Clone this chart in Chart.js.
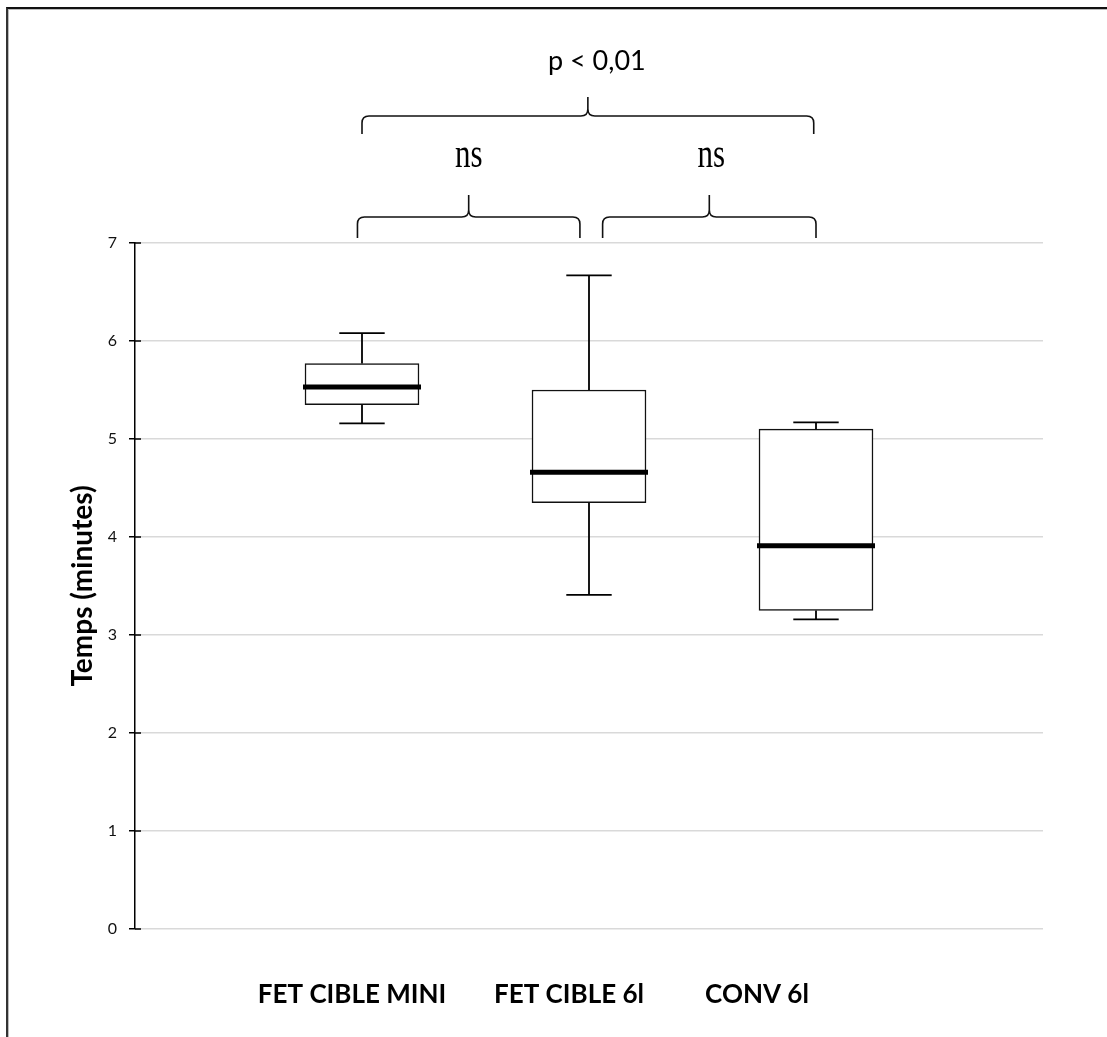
<!DOCTYPE html>
<html>
<head>
<meta charset="utf-8">
<script src="https://cdn.jsdelivr.net/npm/chart.js@4.4.1/dist/chart.umd.min.js"></script>
<style>
  html, body { margin: 0; padding: 0; background: #fff; }
  #wrap { position: relative; width: 1107px; height: 1037px; }
  #frame { position: absolute; left: 6px; top: 7px; right: 0; bottom: 0;
           border-top: 2px solid #111; border-left: 2px solid #333;
           box-shadow: inset 1px 1px 0 #bbb; pointer-events: none; }
</style>
</head>
<body>
<div id="wrap">
  <canvas id="box-chart" width="1107" height="1037"></canvas>
  <div id="frame"></div>
</div>
<script>
// values
const categories = ['FET CIBLE MINI', 'FET CIBLE 6l', 'CONV 6l'];
const mins    = [5.16, 3.41, 3.16];
const q1s     = [5.35, 4.35, 3.25];
const medians = [5.53, 4.66, 3.91];
const q3s     = [5.77, 5.50, 5.10];
const maxs    = [6.08, 6.67, 5.17];
const yTicks  = [0, 1, 2, 3, 4, 5, 6, 7];
const compareLabels = ['ns', 'ns', 'p < 0,01'];

// layout (pixels / x-units), not data
const labelShift = [-10, -20, -59];
const braces = [
  { x1: 0.98, x2: 1.96, yLine: 217, yEnd: 238, yTip: 195, textY: 167, dx: 0, serif: true },
  { x1: 2.06, x2: 3.00, yLine: 217, yEnd: 238, yTip: 195, textY: 167, dx: 2, serif: true },
  { x1: 1.00, x2: 2.99, yLine: 116, yEnd: 134, yTip: 97,  textY: 70,  dx: 9, serif: false }
];

function drawBrace(ctx, a, b, tip, yLine, yEnd, yTip) {
  const r = 7;
  ctx.beginPath();
  ctx.moveTo(a, yEnd);
  ctx.lineTo(a, yLine + r);
  ctx.quadraticCurveTo(a, yLine, a + r, yLine);
  ctx.lineTo(tip - r, yLine);
  ctx.quadraticCurveTo(tip, yLine, tip, yLine - r);
  ctx.lineTo(tip, yTip);
  ctx.moveTo(tip, yLine - r);
  ctx.quadraticCurveTo(tip, yLine, tip + r, yLine);
  ctx.lineTo(b - r, yLine);
  ctx.quadraticCurveTo(b, yLine, b, yLine + r);
  ctx.lineTo(b, yEnd);
  ctx.stroke();
}

const boxExtras = {
  id: 'boxExtras',
  afterDatasetsDraw(chart) {
    const { ctx, scales: { x, y } } = chart;
    const bars = chart.getDatasetMeta(0).data;
    ctx.save();
    ctx.strokeStyle = '#000';
    categories.forEach((c, i) => {
      const cx = x.getPixelForValue(i + 1);
      const capL = x.getPixelForValue(i + 0.9), capR = x.getPixelForValue(i + 1.1);
      ctx.lineWidth = 1.8;
      ctx.beginPath();
      ctx.moveTo(cx, y.getPixelForValue(q3s[i]));
      ctx.lineTo(cx, y.getPixelForValue(maxs[i]));
      ctx.moveTo(capL, y.getPixelForValue(maxs[i]));
      ctx.lineTo(capR, y.getPixelForValue(maxs[i]));
      ctx.moveTo(cx, y.getPixelForValue(q1s[i]));
      ctx.lineTo(cx, y.getPixelForValue(mins[i]));
      ctx.moveTo(capL, y.getPixelForValue(mins[i]));
      ctx.lineTo(capR, y.getPixelForValue(mins[i]));
      ctx.stroke();
      const half = bars[i].width / 2 + 2;
      ctx.lineWidth = 5;
      ctx.beginPath();
      ctx.moveTo(cx - half, y.getPixelForValue(medians[i]));
      ctx.lineTo(cx + half, y.getPixelForValue(medians[i]));
      ctx.stroke();
    });
    // inner half of the y tick marks
    ctx.lineWidth = 1.5;
    ctx.beginPath();
    yTicks.forEach(v => {
      const py = y.getPixelForValue(v);
      ctx.moveTo(chart.chartArea.left, py);
      ctx.lineTo(chart.chartArea.left + 6, py);
    });
    ctx.stroke();
    ctx.restore();
  },
  afterDraw(chart) {
    const { ctx, scales: { x } } = chart;
    ctx.save();
    ctx.fillStyle = '#000';
    ctx.textAlign = 'center';
    ctx.textBaseline = 'alphabetic';
    ctx.font = 'bold 26px Lato';
    categories.forEach((c, i) => {
      ctx.fillText(c, x.getPixelForValue(i + 1) + labelShift[i], 1003);
    });
    ctx.strokeStyle = '#111';
    ctx.lineWidth = 1.6;
    braces.forEach((b, i) => {
      const a = x.getPixelForValue(b.x1), e = x.getPixelForValue(b.x2);
      const tip = (a + e) / 2;
      drawBrace(ctx, a, e, tip, b.yLine, b.yEnd, b.yTip);
      if (b.serif) {
        ctx.save();
        ctx.translate(tip + b.dx, b.textY);
        ctx.scale(1, 1.35);
        ctx.font = '31px "Liberation Serif"';
        ctx.fillText(compareLabels[i], 0, 0);
        ctx.restore();
      } else {
        ctx.font = '27px Lato';
        ctx.fillText(compareLabels[i], tip + b.dx, b.textY);
      }
    });
    ctx.restore();
  }
};

new Chart(document.getElementById('box-chart'), {
  type: 'bar',
  data: {
    datasets: [{
      data: categories.map((c, i) => ({ x: i + 1, y: [q1s[i], q3s[i]] })),
      backgroundColor: '#fff',
      borderColor: '#111',
      borderWidth: 1.5,
      borderSkipped: false,
      barThickness: 114
    }]
  },
  options: {
    responsive: false,
    animation: false,
    layout: { padding: { left: 0, top: 243, right: 64, bottom: 108 } },
    plugins: { legend: { display: false }, tooltip: { enabled: false } },
    scales: {
      x: { type: 'linear', min: 0, max: 4, offset: false, display: false },
      y: {
        min: 0, max: 7,
        afterFit: s => { s.width = 135; },
        afterBuildTicks: s => { s.ticks = yTicks.map(v => ({ value: v })); },
        border: { display: true, color: '#000', width: 1.5 },
        grid: { color: '#d9d9d9', lineWidth: 1.5, tickColor: '#000', tickLength: 6, tickWidth: 1.5 },
        ticks: { color: '#111', padding: 12, font: { family: 'Lato', size: 16 } },
        title: {
          display: true, text: 'Temps (minutes)', color: '#000',
          font: { family: 'Lato', size: 28, weight: 'bold' },
          padding: { top: 66, bottom: 0 }
        }
      }
    }
  },
  plugins: [boxExtras]
});
</script>
</body>
</html>
